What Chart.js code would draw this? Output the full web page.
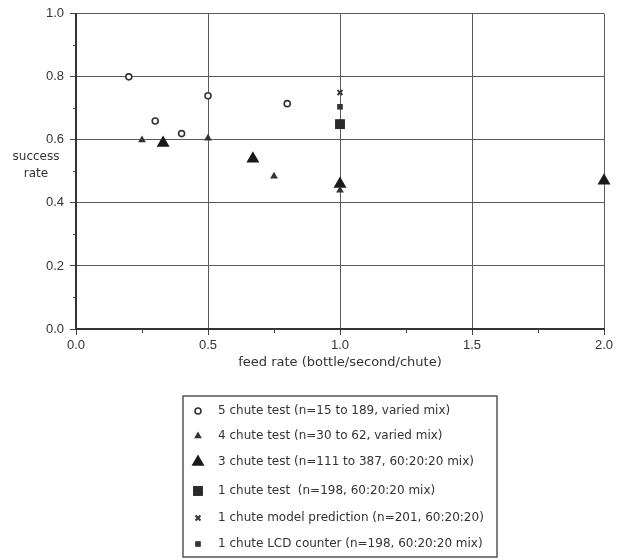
<!DOCTYPE html>
<html>
<head>
<meta charset="utf-8">
<script src="https://cdn.jsdelivr.net/npm/chart.js@4.4.0/dist/chart.umd.min.js"></script>
<style>
    html, body { margin: 0; padding: 0; background: #fff; }
    #wrap { width: 631px; height: 560px; }
</style>
</head>
<body>
<div id="wrap"><canvas id="myChart" width="631" height="560"></canvas></div>
<script>
// values: feed rate (x) vs success rate (y)
const fiveChuteX = [0.2, 0.3, 0.4, 0.5, 0.8];
const fiveChuteY = [0.80, 0.66, 0.62, 0.74, 0.715];
const fourChuteX = [0.25, 0.5, 0.75, 1.0];
const fourChuteY = [0.60, 0.605, 0.485, 0.44];
const threeChuteX = [0.33, 0.67, 1.0, 2.0];
const threeChuteY = [0.59, 0.54, 0.46, 0.47];
const oneChuteX = [1.0];
const oneChuteY = [0.65];
const modelX = [1.0];
const modelY = [0.75];
const lcdX = [1.0];
const lcdY = [0.705];

const seriesLabels = [
    '5 chute test (n=15 to 189, varied mix)',
    '4 chute test (n=30 to 62, varied mix)',
    '3 chute test (n=111 to 387, 60:20:20 mix)',
    '1 chute test  (n=198, 60:20:20 mix)',
    '1 chute model prediction (n=201, 60:20:20)',
    '1 chute LCD counter (n=198, 60:20:20 mix)'
];

const xMajor = [0, 0.5, 1.0, 1.5, 2.0];
const xMinor = [0.25, 0.75, 1.25, 1.75];
const yMajor = [0, 0.2, 0.4, 0.6, 0.8, 1.0];
const yMinor = [0.1, 0.3, 0.5, 0.7, 0.9];

const yTitle = ['success', 'rate'];
const xTitle = 'feed rate (bottle/second/chute)';

function pts(xs, ys) {
    return xs.map(function (x, i) { return {x: x, y: ys[i]}; });
}

const FONT = "'Liberation Sans', Arial, Helvetica, sans-serif";
const TEXT_FONT = "'DejaVu Sans', Verdana, sans-serif";
const INK = '#333';

// minor tick marks + horizontal y title
const extras = {
    id: 'extras',
    afterDraw(chart) {
        const ctx = chart.ctx;
        const xs = chart.scales.x, ys = chart.scales.y;
        const area = chart.chartArea;
        ctx.save();
        ctx.strokeStyle = '#444';
        ctx.lineWidth = 1;
        ctx.beginPath();
        yMinor.forEach(function (v) {
            const py = Math.round(ys.getPixelForValue(v)) + 0.5;
            ctx.moveTo(area.left - 3, py);
            ctx.lineTo(area.left, py);
        });
        xMinor.forEach(function (v) {
            const px = Math.round(xs.getPixelForValue(v)) + 0.5;
            ctx.moveTo(px, area.bottom);
            ctx.lineTo(px, area.bottom + 4);
        });
        ctx.stroke();

        ctx.fillStyle = INK;
        ctx.font = '12px ' + TEXT_FONT;
        ctx.textAlign = 'center';
        ctx.textBaseline = 'middle';
        const mid = ys.getPixelForValue(0.5);
        ctx.fillText(yTitle[0], 36, mid - 15);
        ctx.fillText(yTitle[1], 36, mid + 2);
        ctx.restore();
    }
};

// boxed legend under the plot, one entry per row
const boxLegend = {
    id: 'boxLegend',
    afterDraw(chart) {
        const ctx = chart.ctx;
        const box = {left: 183, top: 396, right: 497, bottom: 557};
        const rows = [411, 436, 462, 491, 518, 544];
        ctx.save();
        ctx.strokeStyle = '#555';
        ctx.lineWidth = 1.5;
        ctx.strokeRect(box.left, box.top, box.right - box.left, box.bottom - box.top);
        ctx.font = '12px ' + TEXT_FONT;
        ctx.textAlign = 'left';
        ctx.textBaseline = 'middle';
        chart.data.datasets.forEach(function (ds, i) {
            ctx.fillStyle = ds.backgroundColor;
            ctx.strokeStyle = ds.borderColor;
            ctx.lineWidth = ds.borderWidth;
            Chart.helpers.drawPoint(ctx, {
                pointStyle: ds.pointStyle,
                radius: ds.pointRadius,
                borderWidth: ds.borderWidth,
                rotation: 0
            }, 198, rows[i]);
            ctx.fillStyle = INK;
            ctx.fillText(ds.label, 218, rows[i]);
        });
        ctx.restore();
    }
};

const ctx = document.getElementById('myChart').getContext('2d');
const myChart = new Chart(ctx, {
    type: 'scatter',
    data: {
        datasets: [
            {
                label: seriesLabels[0],
                data: pts(fiveChuteX, fiveChuteY),
                pointStyle: 'circle',
                pointRadius: 3,
                backgroundColor: '#fff',
                borderColor: '#333',
                borderWidth: 1.6
            },
            {
                label: seriesLabels[1],
                data: pts(fourChuteX, fourChuteY),
                pointStyle: 'triangle',
                pointRadius: 4.5,
                backgroundColor: '#333',
                borderColor: '#333',
                borderWidth: 0
            },
            {
                label: seriesLabels[2],
                data: pts(threeChuteX, threeChuteY),
                pointStyle: 'triangle',
                pointRadius: 7.5,
                backgroundColor: '#1a1a1a',
                borderColor: '#1a1a1a',
                borderWidth: 0
            },
            {
                label: seriesLabels[3],
                data: pts(oneChuteX, oneChuteY),
                pointStyle: 'rect',
                pointRadius: 7,
                backgroundColor: '#2a2a2a',
                borderColor: '#2a2a2a',
                borderWidth: 0
            },
            {
                label: seriesLabels[4],
                data: pts(modelX, modelY),
                pointStyle: 'crossRot',
                pointRadius: 3.5,
                backgroundColor: '#333',
                borderColor: '#333',
                borderWidth: 2
            },
            {
                label: seriesLabels[5],
                data: pts(lcdX, lcdY),
                pointStyle: 'rect',
                pointRadius: 4,
                backgroundColor: '#333',
                borderColor: '#333',
                borderWidth: 0
            }
        ]
    },
    options: {
        responsive: false,
        animation: false,
        clip: false,
        layout: {
            padding: {left: 0, top: 11, right: 27, bottom: 191}
        },
        plugins: {
            legend: {display: false},
            tooltip: {enabled: false}
        },
        scales: {
            x: {
                type: 'linear',
                min: 0,
                max: 2,
                afterBuildTicks: function (scale) {
                    scale.ticks = xMajor.map(function (v) { return {value: v}; });
                },
                ticks: {
                    color: INK,
                    padding: 4,
                    font: {family: FONT, size: 13, lineHeight: 1},
                    callback: function (v) { return Number(v).toFixed(1); }
                },
                grid: {color: '#5a5a5a', lineWidth: 1, tickLength: 6, tickColor: '#444'},
                border: {color: '#333', width: 2},
                title: {
                    display: true,
                    text: xTitle,
                    color: INK,
                    padding: {top: 0, bottom: 0},
                    font: {family: TEXT_FONT, size: 13, lineHeight: 1}
                }
            },
            y: {
                type: 'linear',
                min: 0,
                max: 1,
                afterBuildTicks: function (scale) {
                    scale.ticks = yMajor.map(function (v) { return {value: v}; });
                },
                afterFit: function (scale) { scale.width = 76; },
                ticks: {
                    color: INK,
                    padding: 6,
                    font: {family: FONT, size: 13},
                    callback: function (v) { return Number(v).toFixed(1); }
                },
                grid: {color: '#5a5a5a', lineWidth: 1, tickLength: 6, tickColor: '#444'},
                border: {color: '#333', width: 2}
            }
        }
    },
    plugins: [extras, boxLegend]
});
</script>
</body>
</html>
